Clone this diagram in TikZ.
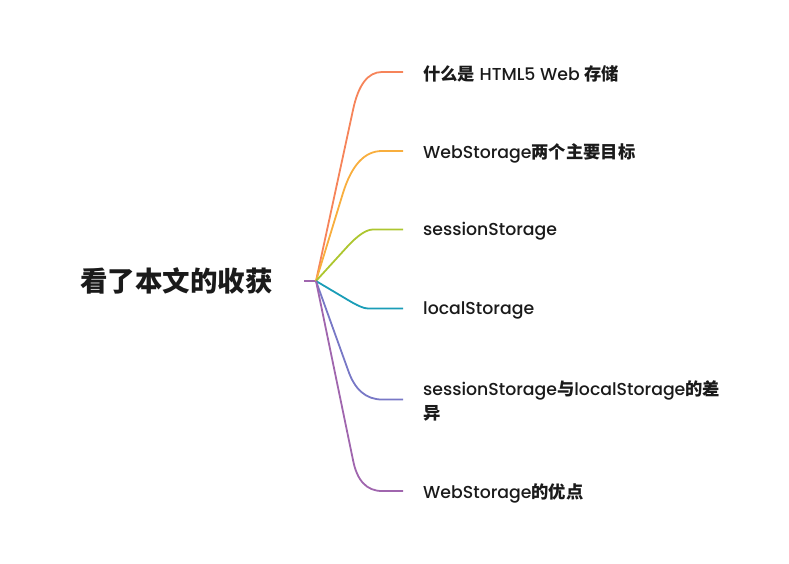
\documentclass[tikz,border=0pt]{standalone}
\usepackage{fontspec}
\usetikzlibrary{calc}
\setmainfont{Noto Sans CJK SC}
\newfontfamily\cjk{Noto Sans CJK SC}
\newfontfamily\lat{Poppins}[UprightFont={* Medium}]
\newcommand{\zh}[1]{{\cjk\bfseries #1}}
\definecolor{cA}{HTML}{F6845A}
\definecolor{cB}{HTML}{F8AE3E}
\definecolor{cC}{HTML}{ADC62F}
\definecolor{cD}{HTML}{1A9DB7}
\definecolor{cE}{HTML}{7878C6}
\definecolor{cF}{HTML}{A066AE}
\definecolor{txt}{HTML}{1A1A1A}
\begin{document}
\begin{tikzpicture}[x=1pt,y=-1pt,
  rootlabel/.style={font=\cjk\bfseries\fontsize{27.5}{32}\selectfont, text=txt, inner sep=0pt},
  leaf/.style={font=\fontsize{17.3}{24}\selectfont\lat, text=txt, inner sep=0pt, anchor=west, align=left},
  branch/.style={line width=1.8pt}]
\useasboundingbox (0,0) rectangle (789,563);
\node[rootlabel] (root) at (176.5,281) {看了本文的收获};
\coordinate (rootend) at (304,281);
\coordinate (hub) at (316,281);
\draw[cF, branch] (rootend) -- (hub);

\node[leaf] (n1) at (423,74) {\zh{什么是} HTML5 Web \zh{存储}};
\node[leaf] (n2) at (423,153) {WebStorage\zh{两个主要目标}};
\node[leaf] (n3) at (423,231) {sessionStorage};
\node[leaf] (n4) at (423,310) {localStorage};
\node[leaf] (n5) at (423,401) {sessionStorage\zh{与}localStorage\zh{的差}\\\zh{异}};
\node[leaf] (n6) at (423,493) {WebStorage\zh{的优点}};

% ends at the labels
\coordinate (e1) at (403,72);
\coordinate (e2) at (403,151);
\coordinate (e3) at (403,229.5);
\coordinate (e4) at (403,308.5);
\coordinate (e5) at (403,399.5);
\coordinate (e6) at (403,491);
% start of bend, corner, end of bend
\coordinate (s1) at (353,110);   \coordinate (k1) at (361,72);    \coordinate (t1) at (382,72);
\coordinate (s2) at (343,193);   \coordinate (k2) at (356,151);   \coordinate (t2) at (382,151);
\coordinate (s3) at (347,247);   \coordinate (k3) at (363,229.5); \coordinate (t3) at (373,229.5);
\coordinate (s4) at (348,300);   \coordinate (k4) at (362,308.5); \coordinate (t4) at (368,308.5);
\coordinate (s5) at (348,370);   \coordinate (k5) at (358,399.5); \coordinate (t5) at (382,399.5);
\coordinate (s6) at (353,460);   \coordinate (k6) at (359,491);   \coordinate (t6) at (382,491);

\foreach \i/\c in {1/cA,2/cB,3/cC,4/cD,5/cE,6/cF}{
  \draw[branch, \c] (hub) -- (s\i)
    .. controls ($(s\i)!0.667!(k\i)$) and ($(t\i)!0.667!(k\i)$) .. (t\i) -- (e\i);
}
\end{tikzpicture}
\end{document}
